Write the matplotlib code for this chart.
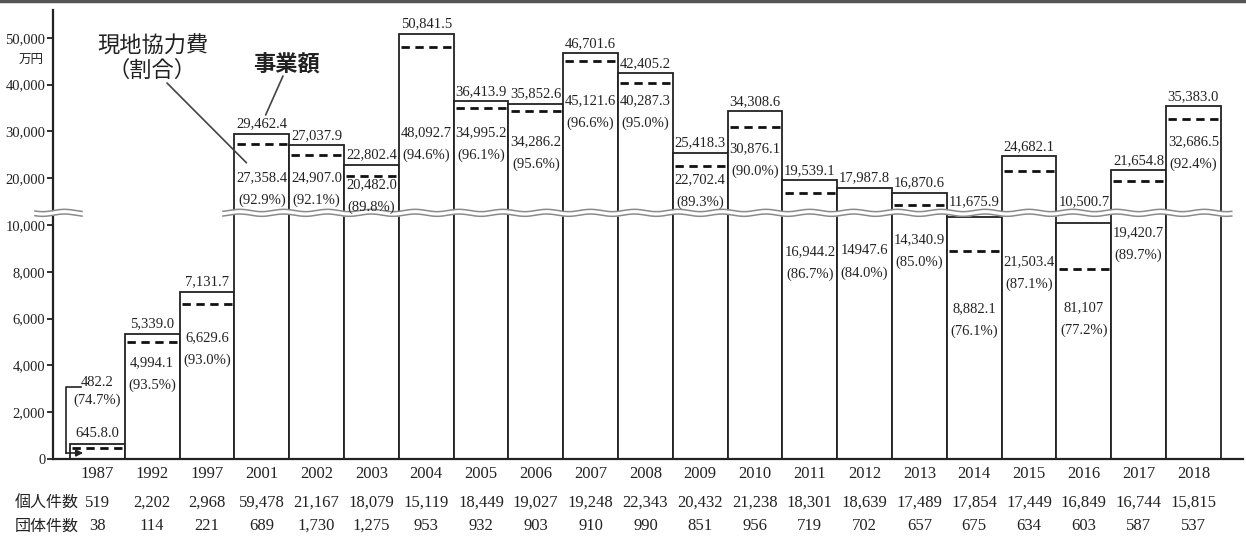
import numpy as np
import matplotlib
matplotlib.use("Agg")
import matplotlib.pyplot as plt
from matplotlib.lines import Line2D
from matplotlib.ticker import FuncFormatter

plt.rcParams['font.family'] = ['Liberation Serif', 'Noto Sans CJK JP']

# data (万円)
years = ["1987", "1992", "1997", "2001", "2002", "2003", "2004", "2005", "2006", "2007", "2008",
         "2009", "2010", "2011", "2012", "2013", "2014", "2015", "2016", "2017", "2018"]
project_total = [645.8, 5339.0, 7131.7, 29462.4, 27037.9, 22802.4, 50841.5, 36413.9, 35852.6,
                 46701.6, 42405.2, 25418.3, 34308.6, 19539.1, 17987.8, 16870.6, 11675.9,
                 24682.1, 10500.7, 21654.8, 35383.0]
local_cost = [482.2, 4994.1, 6629.6, 27358.4, 24907.0, 20482.0, 48092.7, 34995.2, 34286.2,
              45121.6, 40287.3, 22702.4, 30876.1, 16944.2, 14947.6, 14340.9, 8882.1,
              21503.4, 8110.7, 19420.7, 32686.5]
local_pct = [74.7, 93.5, 93.0, 92.9, 92.1, 89.8, 94.6, 96.1, 95.6, 96.6, 95.0, 89.3, 90.0,
             86.7, 84.0, 85.0, 76.1, 87.1, 77.2, 89.7, 92.4]
# labels exactly as printed in the source
total_labels = ["645.8.0", "5,339.0", "7,131.7", "29,462.4", "27,037.9", "22,802.4", "50,841.5",
                "36,413.9", "35,852.6", "46,701.6", "42,405.2", "25,418.3", "34,308.6",
                "19,539.1", "17,987.8", "16,870.6", "11,675.9", "24,682.1", "10,500.7",
                "21,654.8", "35,383.0"]
local_labels = ["482.2", "4,994.1", "6,629.6", "27,358.4", "24,907.0", "20,482.0", "48,092.7",
                "34,995.2", "34,286.2", "45,121.6", "40,287.3", "22,702.4", "30,876.1",
                "16,944.2", "14947.6", "14,340.9", "8,882.1", "21,503.4", "81,107",
                "19,420.7", "32,686.5"]
individual = [519, 2202, 2968, 59478, 21167, 18079, 15119, 18449, 19027, 19248, 22343, 20432,
              21238, 18301, 18639, 17489, 17854, 17449, 16849, 16744, 15815]
group = [38, 114, 221, 689, 1730, 1275, 953, 932, 903, 910, 990, 851, 956, 719, 702, 657,
         675, 634, 603, 587, 537]
yticks = [0, 2000, 4000, 6000, 8000, 10000, 20000, 30000, 40000, 50000]

# layout (pixel rows of the 537px image)
W, H = 1246, 537
AX_BOTTOM, AX_TOP = 459, 10
local_rows = [383, 363, 338, 178, 178, 185, 133, 133, 142, 101, 101, 180, 149, 252, 251,
              240, 309, 262, 308, 233, 142]
top_pad = {"2014": 15, "2016": 21}
dash_skip = {"2012"}

# broken axis: above 10,000 compressed to 1/5
def fwd(v):
    v = np.asarray(v, dtype=float)
    return np.where(v <= 10000, v, 10000 + (v - 10000) * 0.2)

def inv(t):
    t = np.asarray(t, dtype=float)
    return np.where(t <= 10000, t, 10000 + (t - 10000) / 0.2)

def ya(row):
    return (AX_BOTTOM - row) / (AX_BOTTOM - AX_TOP)

fig = plt.figure(figsize=(W / 100, H / 100), dpi=100)
ax = fig.add_axes([53 / W, (H - AX_BOTTOM) / H, (1243 - 53) / W, (AX_BOTTOM - AX_TOP) / H])
ax.set_yscale('function', functions=(fwd, inv))
ax.set_xlim(-0.81, 20.905)
top_t = (AX_BOTTOM - AX_TOP) / 0.0234
ax.set_ylim(0, float(inv(top_t)))

x = np.arange(len(years))
ax.bar(x, project_total, width=1.0, facecolor='white', edgecolor='#222', linewidth=1.3, zorder=2)

dx = [i for i in x if years[i] not in dash_skip]
ax.hlines([local_cost[i] for i in dx], [i - 0.46 for i in dx], [i + 0.48 for i in dx],
          colors='#111', linewidth=2.0, linestyles=(0, (3, 2)), zorder=3)

xt = ax.get_xaxis_transform()
for i in x:
    ax.annotate(total_labels[i], (i, project_total[i]), xytext=(0, top_pad.get(years[i], 10)),
                textcoords='offset pixels', ha='center', va='center', fontsize=10.5,
                color='#222', zorder=6)
    gap = 17 if i == 0 else 22
    ax.text(i, ya(local_rows[i]), local_labels[i], transform=xt, ha='center', va='center',
            fontsize=10.5, color='#222', zorder=6)
    ax.text(i, ya(local_rows[i] + gap), f"({local_pct[i]:.1f}%)", transform=xt,
            ha='center', va='center', fontsize=10.5, color='#222', zorder=6)
    ax.text(i, ya(503), f"{individual[i]:,}", transform=xt, ha='center', va='center',
            fontsize=12, color='#222', clip_on=False)
    ax.text(i, ya(526), f"{group[i]:,}", transform=xt, ha='center', va='center',
            fontsize=12, color='#222', clip_on=False)

fig.text(47 / W, 1 - 503 / H, "個人件数", ha='center', va='center', fontsize=11.5,
         family='Noto Sans CJK JP', color='#222')
fig.text(47 / W, 1 - 526 / H, "団体件数", ha='center', va='center', fontsize=11.5,
         family='Noto Sans CJK JP', color='#222')

# 1987 leader line + arrow
ax.plot([-0.29, -0.573, -0.573], [ya(387), ya(387), ya(453)], transform=xt, color='#222',
        lw=1.2, clip_on=False, zorder=5)
ax.annotate('', xy=(-0.26, ya(453)), xytext=(-0.573, ya(453)), xycoords=xt, textcoords=xt,
            arrowprops=dict(arrowstyle='-|>', color='#222', lw=1.2, mutation_scale=10,
                            shrinkA=0, shrinkB=0), zorder=5)

# wavy break band
for x0, x1 in [(-1.14, -0.28), (2.29, 20.7)]:
    xs = np.linspace(x0, x1, 300)
    wave = 250 * np.sin(2 * np.pi * xs / 0.8)
    lo = 12600 - 500 + wave
    hi = 12600 + 500 + wave
    ax.fill_between(xs, lo, hi, color='white', lw=0, zorder=4, clip_on=False)
    ax.plot(xs, lo, color='#8a8a8a', lw=1.1, zorder=4.5, clip_on=False)
    ax.plot(xs, hi, color='#8a8a8a', lw=1.1, zorder=4.5, clip_on=False)

# axes styling
for s in ['top', 'right']:
    ax.spines[s].set_visible(False)
for s in ['left', 'bottom']:
    ax.spines[s].set_linewidth(1.6)
    ax.spines[s].set_color('#222')
ax.set_yticks(yticks)
ax.yaxis.set_major_formatter(FuncFormatter(lambda v, p: f"{int(round(v)):,}"))
ax.yaxis.set_minor_locator(matplotlib.ticker.NullLocator())
ax.tick_params(axis='y', length=4, width=1.3, labelsize=10.5, pad=1.5, colors='#222')
ax.set_xticks(x, years)
ax.tick_params(axis='x', length=0, pad=5, labelsize=12, colors='#222')

fig.text(31 / W, 1 - 60 / H, "万円", ha='center', va='center', fontsize=9,
         family='Noto Sans CJK JP', color='#222')

# series annotations
fig.text(153 / W, 1 - 46 / H, "現地協力費", ha='center', va='center', fontsize=16,
         family='Noto Sans CJK JP', color='#222')
fig.text(152 / W, 1 - 70 / H, "（割合）", ha='center', va='center', fontsize=16,
         family='Noto Sans CJK JP', color='#222')
fig.text(286 / W, 1 - 65 / H, "事業額", ha='center', va='center', fontsize=16,
         family='Noto Sans CJK JP', fontweight='bold', color='#222')
ax.annotate('', xy=(2.72, 23300), xytext=(167, H - 83), textcoords='figure pixels',
            arrowprops=dict(arrowstyle='-', color='#444', lw=1.2, shrinkA=0, shrinkB=0))
ax.annotate('', xy=(3.07, 33500), xytext=(283, H - 76), textcoords='figure pixels',
            arrowprops=dict(arrowstyle='-', color='#444', lw=1.2, shrinkA=0, shrinkB=0))

fig.add_artist(Line2D([0, 1], [1 - 1 / H, 1 - 1 / H], transform=fig.transFigure,
                      color='#555', lw=2.5))

fig.savefig("out.png", dpi=100, facecolor='white')
